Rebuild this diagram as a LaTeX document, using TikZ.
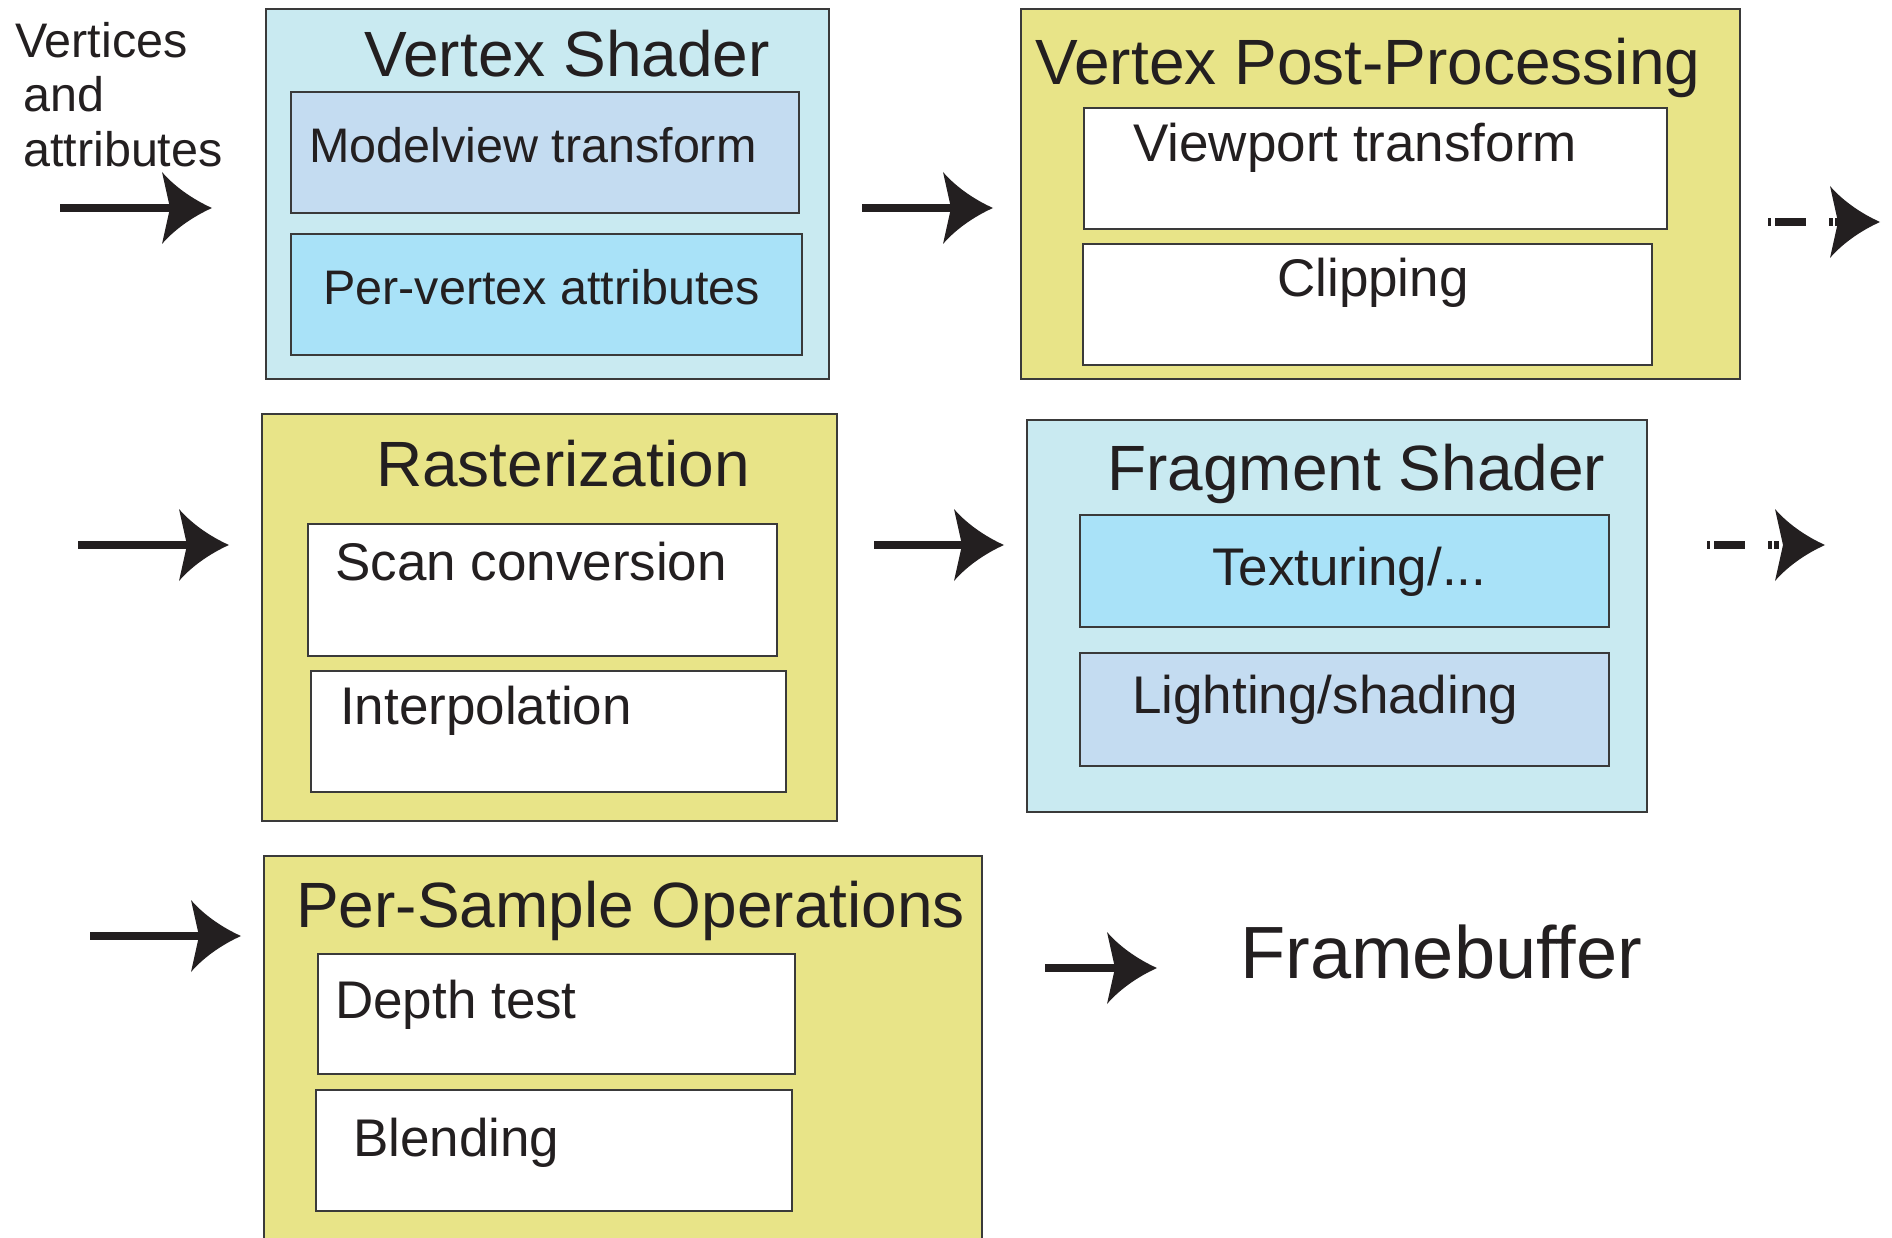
\documentclass[tikz,border=0pt]{standalone}
\usepackage{fontspec}
\setmainfont{Liberation Sans}
\definecolor{ink}{HTML}{231F20}
\definecolor{edge}{HTML}{3A3A3A}
\definecolor{paleCyan}{HTML}{C9EAF1}
\definecolor{steel}{HTML}{C4DCF1}
\definecolor{sky}{HTML}{A9E2F8}
\definecolor{straw}{HTML}{E8E488}
\tikzset{
  stage/.style={draw=edge, line width=2pt, rectangle, anchor=north west, inner sep=0pt},
  heading/.style={anchor=base west, inner sep=0pt, text=ink, font=\fontsize{64pt}{64pt}\selectfont},
  item/.style={anchor=base west, inner sep=0pt, text=ink, font=\fontsize{53pt}{53pt}\selectfont},
  smallitem/.style={anchor=base west, inner sep=0pt, text=ink, font=\fontsize{48.5pt}{48.5pt}\selectfont},
  shaft/.style={draw=ink, line width=8pt, line cap=butt, shorten >=40pt},
  dashshaft/.style={shaft, dash pattern=on 3pt off 4pt on 31pt off 23pt on 4pt off 2pt on 5pt off 200pt},
  dart/.pic={\fill[ink] (0,0) .. controls (-20,-9) and (-38,-22) .. (-50,-36) -- (-42,0)
             -- (-50,36) .. controls (-38,22) and (-20,9) .. (0,0) -- cycle;}
}
\begin{document}
\begin{tikzpicture}[x=1pt,y=-1pt]
\useasboundingbox[fill=white] (0,0) rectangle (1892,1238);

% input label
\node[smallitem] (lbl1) at (15,58) {Vertices};
\node[smallitem] (lbl2) at (23,112) {and};
\node[smallitem] (lbl3) at (23,167) {attributes};

% Vertex shader
\node[stage, fill=paleCyan, minimum width=563pt, minimum height=370pt] (vs) at (265,8) {};
\node[stage, fill=steel, minimum width=508pt, minimum height=121pt] (mv) at (290,91) {};
\node[stage, fill=sky, minimum width=511pt, minimum height=121pt] (pv) at (290,233) {};
\node[heading] (vsT) at (364,77) {Vertex Shader};
\node[smallitem] (mvT) at (309,163) {Modelview transform};
\node[smallitem] (pvT) at (323,305) {Per-vertex attributes};

% Vertex post-processing
\node[stage, fill=straw, minimum width=719pt, minimum height=370pt] (vpp) at (1020,8) {};
\node[stage, fill=white, minimum width=583pt, minimum height=121pt] (vp) at (1083,107) {};
\node[stage, fill=white, minimum width=569pt, minimum height=121pt] (clip) at (1082,243) {};
\node[heading] (vppT) at (1035,85) {Vertex Post-Processing};
\node[item] (vpT) at (1133,162) {Viewport transform};
\node[item] (clipT) at (1277,297) {Clipping};

% Rasterization
\node[stage, fill=straw, minimum width=575pt, minimum height=407pt] (ras) at (261,413) {};
\node[stage, fill=white, minimum width=469pt, minimum height=132pt] (scan) at (307,523) {};
\node[stage, fill=white, minimum width=475pt, minimum height=121pt] (interp) at (310,670) {};
\node[heading] (rasT) at (376,486) {Rasterization};
\node[item] (scanT) at (335,580) {Scan conversion};
\node[item] (interpT) at (340,724) {Interpolation};

% Fragment shader
\node[stage, fill=paleCyan, minimum width=620pt, minimum height=392pt] (fs) at (1026,419) {};
\node[stage, fill=sky, minimum width=529pt, minimum height=112pt] (tex) at (1079,514) {};
\node[stage, fill=steel, minimum width=529pt, minimum height=113pt] (light) at (1079,652) {};
\node[heading] (fsT) at (1107,490) {Fragment Shader};
\node[item] (texT) at (1212,585) {Texturing/...};
\node[item] (lightT) at (1132,713) {Lighting/shading};

% Per-sample operations
\node[stage, fill=straw, minimum width=718pt, minimum height=400pt] (ps) at (263,855) {};
\node[stage, fill=white, minimum width=477pt, minimum height=120pt] (depth) at (317,953) {};
\node[stage, fill=white, minimum width=476pt, minimum height=121pt] (blend) at (315,1089) {};
\node[heading] (psT) at (296,927) {Per-Sample Operations};
\node[item] (depthT) at (335,1018) {Depth test};
\node[item] (blendT) at (353,1156) {Blending};

% Output
\node[anchor=base west, inner sep=0pt, text=ink, font=\fontsize{74pt}{74pt}\selectfont] (fb) at (1240,978) {Framebuffer};

% Arrow end points
\coordinate (a1s) at (60,208);   \coordinate (a1t) at (212,208);
\coordinate (a2s) at (862,208);  \coordinate (a2t) at (993,208);
\coordinate (a3s) at (1768,222); \coordinate (a3t) at (1880,222);
\coordinate (a4s) at (78,545);   \coordinate (a4t) at (229,545);
\coordinate (a5s) at (874,545);  \coordinate (a5t) at (1004,545);
\coordinate (a6s) at (1707,545); \coordinate (a6t) at (1825,545);
\coordinate (a7s) at (90,936);   \coordinate (a7t) at (241,936);
\coordinate (a8s) at (1045,968); \coordinate (a8t) at (1157,968);

\draw[shaft] (a1s) -- (a1t);  \pic at (a1t) {dart};
\draw[shaft] (a2s) -- (a2t);  \pic at (a2t) {dart};
\draw[dashshaft] (a3s) -- (a3t); \pic at (a3t) {dart};
\draw[shaft] (a4s) -- (a4t);  \pic at (a4t) {dart};
\draw[shaft] (a5s) -- (a5t);  \pic at (a5t) {dart};
\draw[dashshaft] (a6s) -- (a6t); \pic at (a6t) {dart};
\draw[shaft] (a7s) -- (a7t);  \pic at (a7t) {dart};
\draw[shaft] (a8s) -- (a8t);  \pic at (a8t) {dart};
\end{tikzpicture}
\end{document}
